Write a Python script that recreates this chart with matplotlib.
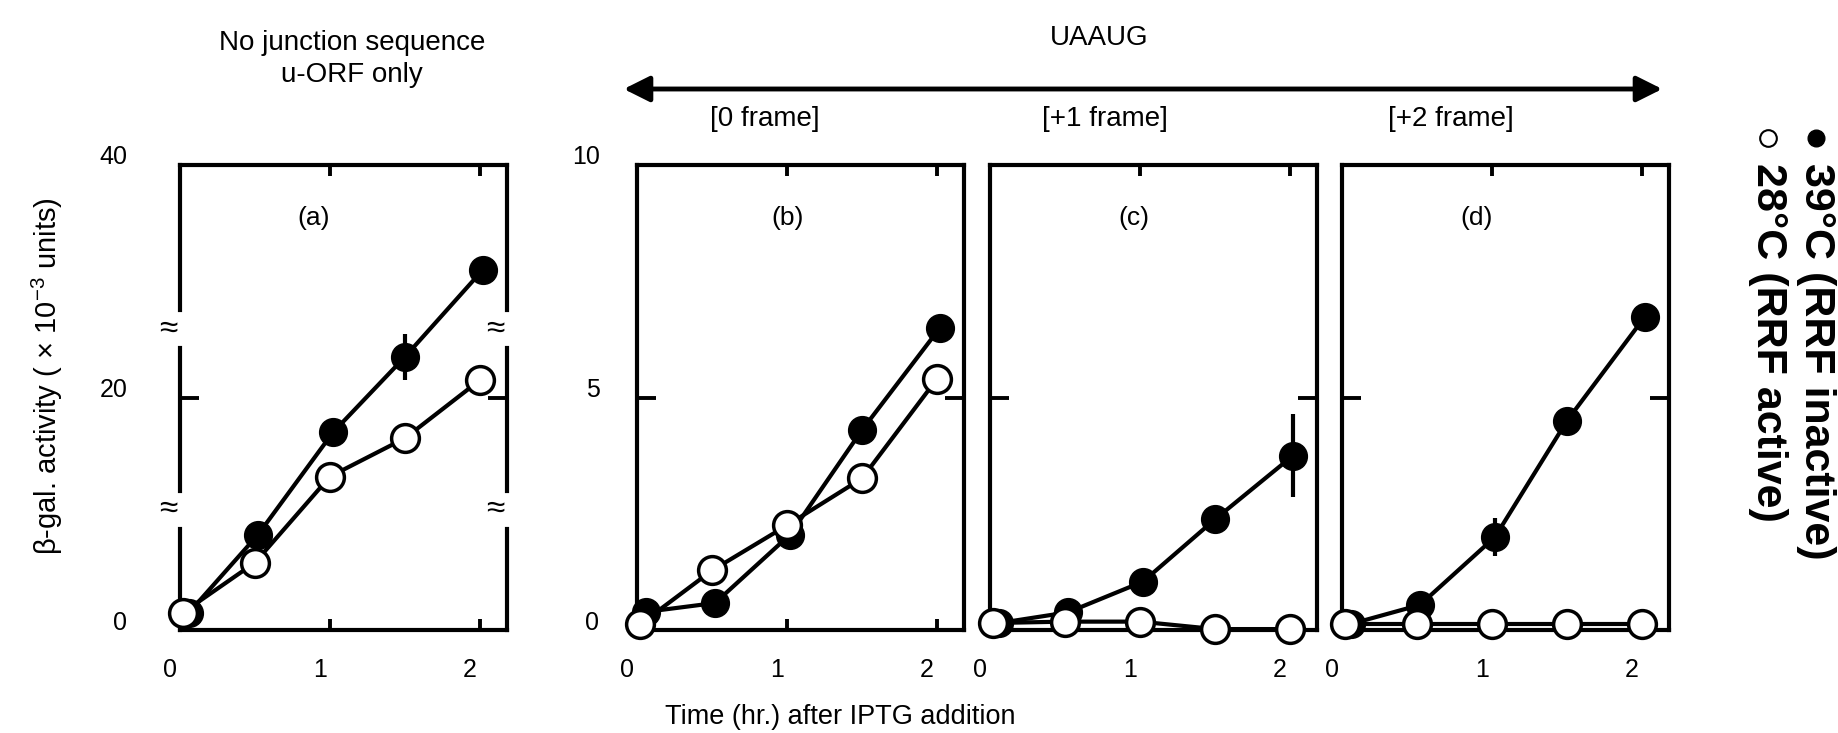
import matplotlib.pyplot as plt
import matplotlib.transforms as mtransforms
from matplotlib.patches import FancyArrowPatch
from matplotlib.lines import Line2D

plt.rcParams['font.family'] = ['Liberation Sans', 'DejaVu Sans']
plt.rcParams['mathtext.fontset'] = 'custom'
plt.rcParams['mathtext.rm'] = 'Liberation Sans'

# data
t_39 = [0.06, 0.52, 1.02, 1.5, 2.02]
t_28 = [0.02, 0.5, 1.0, 1.5, 2.0]

a_39 = [1.5, 8.2, 17.0, 23.5, 31.0]
a_39_err = [0, 0, 0, 2.0, 0]
a_28 = [1.5, 5.8, 13.2, 16.5, 21.5]

b_39 = [0.39, 0.58, 2.05, 4.3, 6.5]
b_39_err = [0, 0, 0, 0, 0]
b_28 = [0.12, 1.28, 2.25, 3.26, 5.4]

c_39 = [0.15, 0.38, 1.04, 2.38, 3.75]
c_39_err = [0, 0, 0, 0, 0.9]
c_28 = [0.15, 0.18, 0.18, 0.02, 0.02]

d_39 = [0.13, 0.54, 2.0, 4.5, 6.74]
d_39_err = [0, 0, 0.4, 0, 0]
d_28 = [0.13, 0.13, 0.13, 0.13, 0.13]

panel_names = ['(a)', '(b)', '(c)', '(d)']
frame_names = ['[0 frame]', '[+1 frame]', '[+2 frame]']
xticks = [0, 1, 2]

fig = plt.figure(figsize=(18.38, 7.33), dpi=100)
W, H = 1838, 733

def fx(px):
    return px / W

def fy(py):
    return 1 - py / H

bottom = fy(630)
height = fy(165) - bottom
lefts = [180, 637, 990, 1342]
width = 327 / W

panels = [(a_39, a_39_err, a_28, 40), (b_39, b_39_err, b_28, 10),
          (c_39, c_39_err, c_28, 10), (d_39, d_39_err, d_28, 10)]
label_x = [0.41, 0.46, 0.44, 0.41]

axes = []
for i, (y39, e39, y28, ymax) in enumerate(panels):
    ax = fig.add_axes([fx(lefts[i]), bottom, width, height])
    ax.errorbar(t_39, y39, yerr=e39, color='black', lw=3, elinewidth=3,
                capsize=0, marker='o', ms=20, mfc='black', mec='black',
                clip_on=False, zorder=3)
    ax.plot(t_28, y28, color='black', lw=3, marker='o', ms=20,
            mfc='white', mec='black', mew=2.5, clip_on=False, zorder=4)
    ax.set_xlim(0, 2.18)
    ax.set_ylim(0, ymax)
    ax.set_xticks(xticks)
    ax.set_yticks([0, ymax / 2, ymax])
    if i == 0:
        ax.set_yticklabels(['0', '20', '40'])
        ypad = 38
    elif i == 1:
        ax.set_yticklabels(['0', '5', '10'])
        ypad = 27
    else:
        ax.set_yticklabels([])
        ypad = 27
    ax.tick_params(direction='in', top=True, right=True, width=2.8,
                   labelsize=18)
    ax.tick_params(axis='x', length=8, pad=20)
    ax.tick_params(axis='y', length=14, pad=ypad)
    for s in ax.spines.values():
        s.set_linewidth(3)
    shift_x = mtransforms.ScaledTranslation(-0.10, 0, fig.dpi_scale_trans)
    for lab in ax.get_xticklabels():
        lab.set_transform(lab.get_transform() + shift_x)
    shift_y = mtransforms.ScaledTranslation(0, 0.10, fig.dpi_scale_trans)
    for lab in ax.get_yticklabels():
        lab.set_transform(lab.get_transform() + shift_y)
    ax.text(label_x[i], 0.885, panel_names[i], transform=ax.transAxes,
            ha='center', va='center', fontsize=19)
    axes.append(ax)

# broken vertical axis on panel (a)
ax = axes[0]
ax.spines['left'].set_visible(False)
ax.spines['right'].set_visible(False)
segments = [(0, 8.7), (12.0, 24.3), (27.5, 40)]
for xa in [0, 1]:
    for y0, y1 in segments:
        ax.plot([xa, xa], [y0, y1], transform=ax.get_yaxis_transform(),
                color='black', lw=3, clip_on=False, solid_capstyle='projecting')
    for g in [12.0, 27.5]:
        ax.text(xa - 0.035, g - 1.6, '≈', transform=ax.get_yaxis_transform(),
                ha='center', va='center', fontsize=24)
ax.set_xlim(0, 2.18)
ax.set_ylim(0, 40)

# headers
fig.text(fx(352), fy(43), 'No junction sequence', ha='center', va='center', fontsize=20)
fig.text(fx(352), fy(75), 'u-ORF only', ha='center', va='center', fontsize=20)
fig.text(fx(1099), fy(38), 'UAAUG', ha='center', va='center', fontsize=20)
arrow = FancyArrowPatch((fx(621), fy(89)), (fx(1665), fy(89)),
                        transform=fig.transFigure,
                        arrowstyle='<|-|>,head_length=1.3,head_width=0.65',
                        lw=3.5, color='black', mutation_scale=12)
fig.add_artist(arrow)
for xp, name in zip([765, 1105, 1451], frame_names):
    fig.text(fx(xp), fy(119), name, ha='center', va='center', fontsize=20)

fig.text(fx(47), fy(376), r'β-gal. activity ( × 10$^{-3}$ units)',
         rotation=90, ha='center', va='center', fontsize=21)
fig.text(fx(840), fy(717), 'Time (hr.) after IPTG addition',
         ha='center', va='center', fontsize=19.5)

# legend, rotated
fig.add_artist(Line2D([fx(1816)], [fy(138)], transform=fig.transFigure,
                      marker='o', ms=12, mfc='black', mec='black', ls='none'))
fig.add_artist(Line2D([fx(1768)], [fy(138)], transform=fig.transFigure,
                      marker='o', ms=12, mfc='white', mec='black', mew=1.5, ls='none'))
fig.text(fx(1816), fy(163), '39°C (RRF inactive)', rotation=-90,
         ha='center', va='top', fontsize=31, fontweight='bold')
fig.text(fx(1768), fy(163), '28°C (RRF active)', rotation=-90,
         ha='center', va='top', fontsize=31, fontweight='bold')

fig.savefig('out.png', dpi=100)
